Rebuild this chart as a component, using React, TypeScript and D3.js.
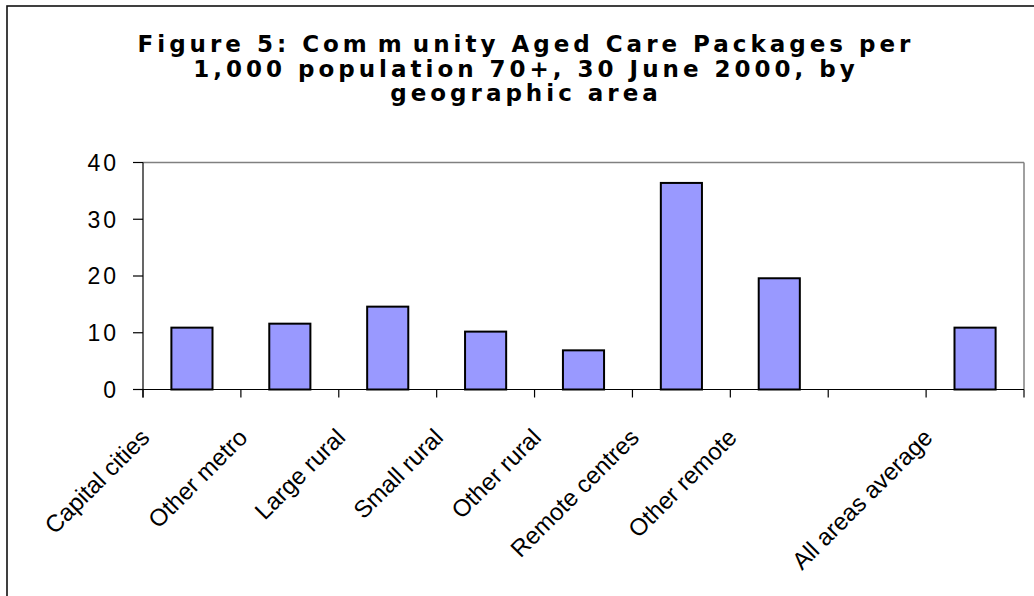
import React from "react";
import * as d3 from "d3";

// Community Aged Care Packages per 1,000 population aged 70+, by area
const categories: string[] = [
  "Capital cities",
  "Other metro",
  "Large rural",
  "Small rural",
  "Other rural",
  "Remote centres",
  "Other remote",
  "",
  "All areas average",
];
const packagesPer1000: (number | null)[] = [10.9, 11.6, 14.6, 10.2, 6.9, 36.4, 19.6, null, 10.9];
const yTicks: number[] = [0, 10, 20, 30, 40];
const titleLines: string[][] = [
  ["Figure 5: Com", "m", "unity Aged Care Packages per"],
  ["1,000 population 70+, 30 June 2000, by"],
  ["geographic area"],
];

const W = 1034;
const H = 596;
const plot = { left: 143, right: 1024, top: 162.5, bottom: 389.5 };

export default function App() {
  const x = d3
    .scaleBand<number>()
    .domain(d3.range(categories.length))
    .range([plot.left, plot.right])
    .paddingInner(0)
    .paddingOuter(0);
  const y = d3.scaleLinear().domain([0, 40]).range([plot.bottom, plot.top]);
  const bw = x.bandwidth();
  const barW = bw * 0.42;

  const boundaries = d3.range(categories.length + 1).map((i) =>
    i < categories.length ? (x(i) as number) : plot.right
  );

  const titleX = 526;
  const titleBase = [52, 76.5, 101];

  return (
    <svg
      width={W}
      height={H}
      style={{ position: "absolute", left: 0, top: 0, background: "#fff" }}
    >
      {/* chart frame, cut by the canvas edge on right and bottom */}
      <rect x={7} y={6} width={W + 20} height={H + 20} fill="#fff" stroke="#111" strokeWidth={1.6} />

      {/* title */}
      <g
        fontFamily="'DejaVu Sans', Verdana, sans-serif"
        fontWeight="bold"
        fontSize={23}
        letterSpacing={4}
        fill="#000"
        textAnchor="middle"
      >
        {titleLines.map((parts, i) => (
          <text key={i} x={titleX} y={titleBase[i]}>
            {parts.map((p, j) => (
              <tspan key={j} dx={j > 0 ? 7 : 0}>
                {p}
              </tspan>
            ))}
          </text>
        ))}
      </g>

      {/* plot area border (top and right) */}
      <line x1={plot.left} x2={plot.right} y1={plot.top} y2={plot.top} stroke="#808080" strokeWidth={1.5} />
      <line x1={plot.right} x2={plot.right} y1={plot.top} y2={plot.bottom} stroke="#808080" strokeWidth={1.5} />

      {/* bars */}
      {packagesPer1000.map((v, i) =>
        v == null ? null : (
          <rect
            key={i}
            x={(x(i) as number) + bw / 2 - barW / 2}
            y={y(v)}
            width={barW}
            height={y(0) - y(v)}
            fill="#9999FF"
            stroke="#000"
            strokeWidth={2}
          />
        )
      )}

      {/* y axis */}
      <line x1={plot.left} x2={plot.left} y1={plot.top} y2={plot.bottom + 8} stroke="#000" strokeWidth={1.2} />
      {yTicks.map((t) => (
        <g key={t}>
          <line x1={plot.left - 10} x2={plot.left} y1={y(t)} y2={y(t)} stroke="#000" strokeWidth={1.2} />
          <text
            x={119}
            y={y(t)}
            dy="0.36em"
            textAnchor="end"
            fontFamily="'Liberation Sans', Arial, sans-serif"
            fontSize={23}
            letterSpacing={3}
            fill="#000"
          >
            {t}
          </text>
        </g>
      ))}

      {/* x axis */}
      <line x1={plot.left} x2={plot.right} y1={plot.bottom} y2={plot.bottom} stroke="#000" strokeWidth={1.2} />
      {boundaries.map((bx, i) => (
        <line key={i} x1={bx} x2={bx} y1={plot.bottom} y2={plot.bottom + 8} stroke="#000" strokeWidth={1.2} />
      ))}
      {categories.map((c, i) =>
        c ? (
          <text
            key={i}
            transform={`translate(${(x(i) as number) + bw / 2 - 41},${439}) rotate(-45)`}
            textAnchor="end"
            fontFamily="'Liberation Sans', Arial, sans-serif"
            fontSize={24}
            fill="#000"
          >
            {c}
          </text>
        ) : null
      )}
    </svg>
  );
}
